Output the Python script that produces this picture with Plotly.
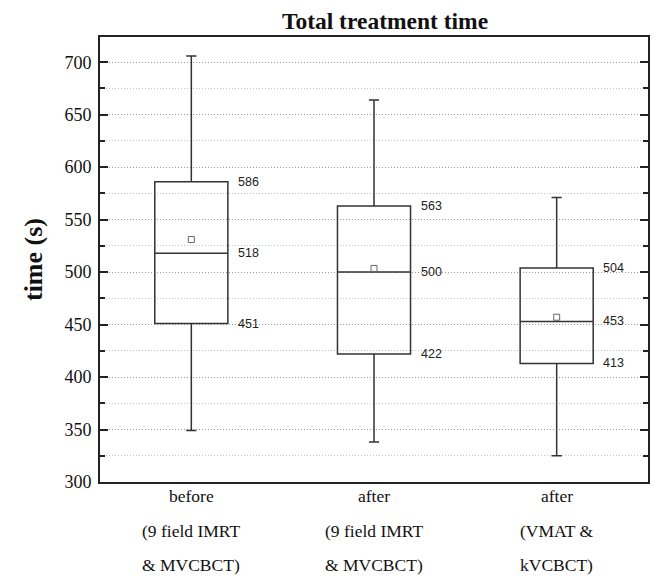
import plotly.graph_objects as go

# ---- data ----
categories = ["before", "after", "after"]
sublabels = [["(9 field IMRT", "& MVCBCT)"],
             ["(9 field IMRT", "& MVCBCT)"],
             ["(VMAT &", "kVCBCT)"]]
q1 = [451, 422, 413]
median = [518, 500, 453]
q3 = [586, 563, 504]
lower = [349, 338, 325]
upper = [706, 664, 571]
mean = [531, 503.5, 457]
y_ticks = [300, 350, 400, 450, 500, 550, 600, 650, 700]

xs = list(range(len(categories)))
SERIF = "Liberation Serif, Times New Roman, serif"
SANS = "Liberation Sans, Arial, sans-serif"

fig = go.Figure()
fig.add_trace(go.Box(
    x=xs, q1=q1, median=median, q3=q3,
    lowerfence=lower, upperfence=upper,
    width=0.4, whiskerwidth=0.14,
    line=dict(color="#333333", width=1.5),
    fillcolor="rgba(255,255,255,0)",
    boxpoints=False, showlegend=False, hoverinfo="skip",
))
fig.add_trace(go.Scatter(
    x=xs, y=mean, mode="markers",
    marker=dict(symbol="square-open", size=6, color="#666666", line=dict(width=1)),
    showlegend=False, hoverinfo="skip",
))

annotations = []
for i in xs:
    for v in (q1[i], median[i], q3[i]):
        annotations.append(dict(
            x=i + 0.2, y=v, xref="x", yref="y", text=str(v),
            showarrow=False, xanchor="left", yanchor="middle", xshift=8,
            font=dict(family=SANS, size=12.5, color="#222222"),
        ))
    lines = [categories[i]] + sublabels[i]
    for j, t in enumerate(lines):
        annotations.append(dict(
            x=i, y=0, xref="x", yref="paper", text=t,
            showarrow=False, xanchor="center", yanchor="middle",
            yshift=-14 - 34.5 * j,
            font=dict(family=SERIF, size=17.5, color="#111111"),
        ))

fig.update_layout(
    width=654, height=577,
    margin=dict(l=100, r=4, t=37, b=95),
    paper_bgcolor="white", plot_bgcolor="white",
    title=dict(text="<b>Total treatment time</b>", x=385 / 654, xref="container",
               xanchor="center", y=1 - 21 / 577, yanchor="middle",
               font=dict(family=SERIF, size=23.5, color="#111111")),
    annotations=annotations,
    xaxis=dict(
        range=[-0.5, 2.5], tickvals=xs, showticklabels=False, ticks="",
        showline=True, linecolor="#222222", linewidth=2, mirror=True,
        showgrid=False, zeroline=False,
    ),
    yaxis=dict(
        range=[300, 724], tickvals=y_ticks,
        ticks="inside", ticklen=8, tickwidth=2, tickcolor="#222222",
        showline=True, linecolor="#222222", linewidth=2, mirror="ticks",
        showgrid=True, gridcolor="#9a9a9a", griddash="1px,2px", gridwidth=1,
        zeroline=False, ticklabelstandoff=3,
        tickfont=dict(family=SERIF, size=18, color="#111111"),
        title=dict(text="<b>time (s)</b>", font=dict(family=SERIF, size=26, color="#111111"),
                   standoff=14),
        minor=dict(dtick=25, ticks="inside", ticklen=5, tickwidth=2, tickcolor="#222222",
                   showgrid=True, gridcolor="#c4c4c4", griddash="1px,2px", gridwidth=1),
    ),
)

fig.write_html("out.html")
